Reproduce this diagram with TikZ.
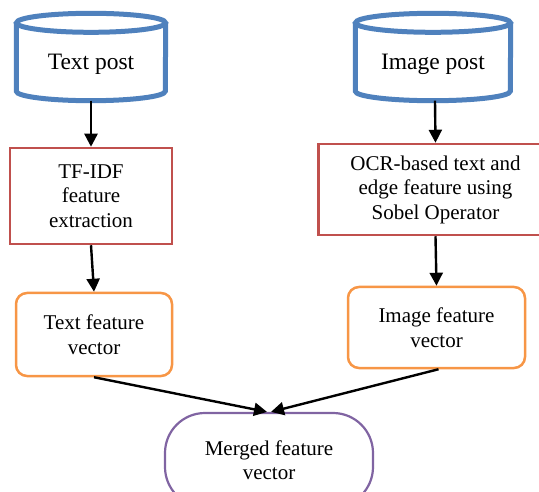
\documentclass[tikz,border=0pt]{standalone}
\usepackage{fontspec}
\setmainfont{Liberation Serif}
\usetikzlibrary{arrows.meta}
\definecolor{cylblue}{HTML}{4F81BD}
\definecolor{boxred}{HTML}{C0504D}
\definecolor{vecorange}{HTML}{F79646}
\definecolor{mergepurple}{HTML}{8064A2}
\begin{document}
\begin{tikzpicture}[x=1pt,y=-1pt,
  txt/.style={font=\fontsize{21}{24.5}\selectfont, align=center, inner sep=0pt},
  cyltext/.style={font=\fontsize{23.5}{28}\selectfont, inner sep=0pt},
  cylline/.style={draw=cylblue, line width=5pt},
  procbox/.style={txt, draw=boxred, line width=2.5pt, rectangle},
  vecbox/.style={txt, draw=vecorange, line width=2.5pt, rectangle, rounded corners=11pt},
  mergebox/.style={txt, draw=mergepurple, line width=2.2pt, rectangle, rounded corners=40pt},
  flow/.style={draw=black, line width=2.4pt, -{Triangle[length=13pt,width=13pt]}}
]
\useasboundingbox (0,0) rectangle (539,492);

% database cylinders: node spans from the top rim centre down to y=106,
% the bottom rim is drawn 15pt above the node's lower edge
\node[cyltext, minimum width=149pt, minimum height=83pt] (tpost) at (91,64.5) {Text post};
\node[cyltext, minimum width=155pt, minimum height=83pt] (ipost) at (433,64.5) {Image post};
\foreach \c/\r in {tpost/74.5, ipost/77.5}{
  \draw[cylline] (\c.north west) -- ([yshift=15pt]\c.south west)
    arc[start angle=180, end angle=360, x radius=\r pt, y radius=9.5pt] -- (\c.north east);
  \draw[cylline] (\c.north) ellipse[x radius=\r pt, y radius=9.5pt];
}

% processing steps
\node[procbox, minimum width=162pt, minimum height=96pt] (tfidf) at (91,196)
  {TF-IDF\\feature\\extraction};
\node[procbox, minimum width=234pt, minimum height=91pt] (ocr) at (435.5,189.5)
  {OCR-based text and\\edge feature using\\Sobel Operator};

% feature vectors
\node[vecbox, minimum width=156pt, minimum height=83pt] (tvec) at (94,334.5)
  {Text feature\\vector};
\node[vecbox, minimum width=177pt, minimum height=81pt] (ivec) at (436.5,327.5)
  {Image feature\\vector};

% fused output
\node[mergebox, minimum width=208pt, minimum height=94pt] (merged) at (269,460)
  {Merged feature\\vector};

% connectors
\draw[flow] ([yshift=5.5pt]tpost.south) -- (tfidf.north);
\draw[flow] ([xshift=2pt,yshift=5.5pt]ipost.south) -- (ocr.north);
\draw[flow] (ocr.south) -- (ivec.north);
\draw[flow] (tfidf.south) -- (tvec.north);
\draw[flow] (tvec.south) -- ([xshift=-2pt]merged.north);
\draw[flow] ([xshift=2pt]ivec.south) -- ([xshift=2pt]merged.north);
\end{tikzpicture}
\end{document}
